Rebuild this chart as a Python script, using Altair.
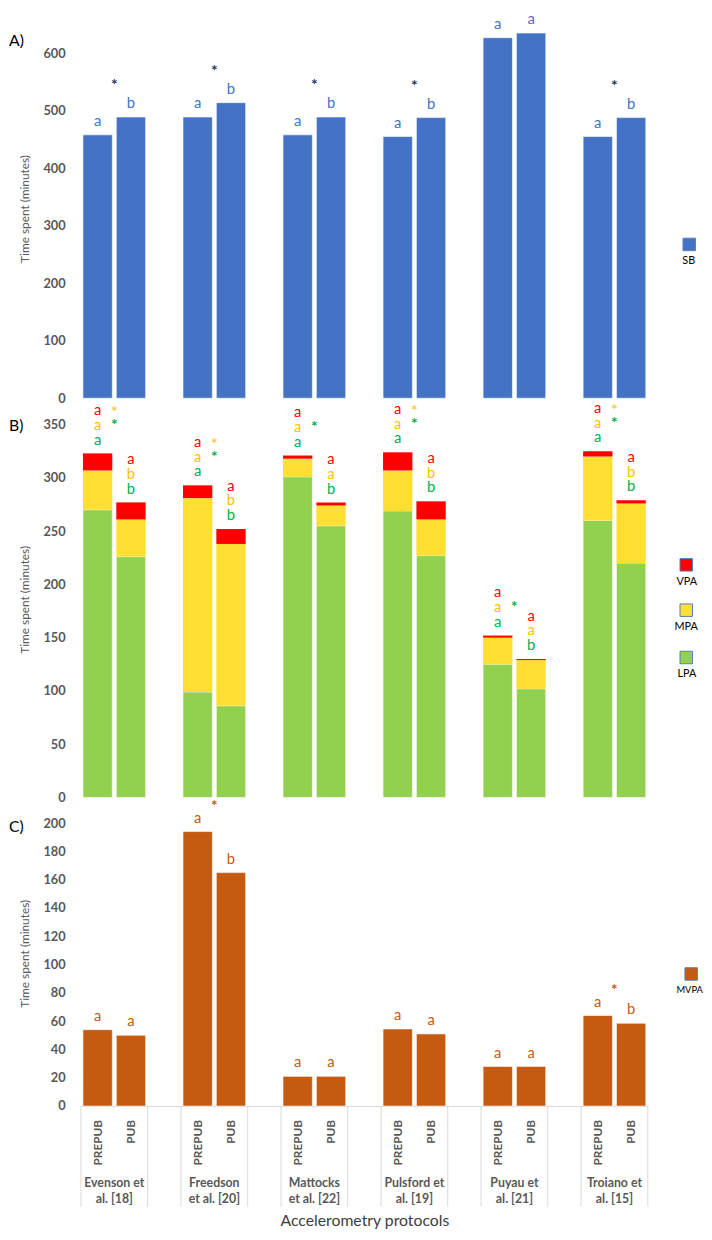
import altair as alt
import pandas as pd

# ---------------- data ----------------
GROUPS = ["Evenson et\nal. [18]", "Freedson\net al. [20]", "Mattocks\net al. [22]",
          "Pulsford et\nal. [19]", "Puyau et\nal. [21]", "Troiano et\nal. [15]"]
PERIODS = ["PREPUB", "PUB"]

SB_PREPUB = [458, 489, 458, 455, 627, 455]
SB_PUB = [489, 514, 489, 488, 635, 488]
SB_LET_PREPUB = ["a", "a", "a", "a", "a", "a"]
SB_LET_PUB = ["b", "b", "b", "b", "a", "b"]
SB_STAR = [1, 1, 1, 1, 0, 1]

LPA_PREPUB = [270, 99, 301, 269, 125, 260]
LPA_PUB = [226, 86, 255, 227, 102, 220]
MPA_PREPUB = [37, 182, 17, 38, 25, 60]
MPA_PUB = [35, 152, 19, 34, 27, 56]
VPA_PREPUB = [16, 12, 3, 17, 2, 5]
VPA_PUB = [16, 14, 3, 17, 1, 3]
LPA_LET_PREPUB = ["a", "a", "a", "a", "a", "a"]
LPA_LET_PUB = ["b", "b", "b", "b", "b", "b"]
MPA_LET_PREPUB = ["a", "a", "a", "a", "a", "a"]
MPA_LET_PUB = ["b", "b", "a", "b", "a", "b"]
VPA_LET_PREPUB = ["a", "a", "a", "a", "a", "a"]
VPA_LET_PUB = ["a", "a", "a", "a", "a", "a"]
LPA_STAR = [1, 1, 1, 1, 1, 1]
MPA_STAR = [1, 1, 0, 1, 0, 1]

MVPA_PREPUB = [54, 194, 21, 54.5, 28, 64]
MVPA_PUB = [50, 165, 21, 51, 28, 58.5]
MVPA_LET_PREPUB = ["a", "a", "a", "a", "a", "a"]
MVPA_LET_PUB = ["a", "b", "a", "a", "a", "b"]
MVPA_STAR = [0, 1, 0, 0, 0, 1]

rows = []
for i, g in enumerate(GROUPS):
    for p in PERIODS:
        pre = p == "PREPUB"
        l = LPA_PREPUB[i] if pre else LPA_PUB[i]
        m = MPA_PREPUB[i] if pre else MPA_PUB[i]
        v = VPA_PREPUB[i] if pre else VPA_PUB[i]
        rows.append(dict(
            group=g, period=p,
            sb=SB_PREPUB[i] if pre else SB_PUB[i],
            sb_let=SB_LET_PREPUB[i] if pre else SB_LET_PUB[i],
            sb_star=SB_STAR[i],
            lpa=l, lm=l + m, tot=l + m + v,
            lpa_let=LPA_LET_PREPUB[i] if pre else LPA_LET_PUB[i],
            mpa_let=MPA_LET_PREPUB[i] if pre else MPA_LET_PUB[i],
            vpa_let=VPA_LET_PREPUB[i] if pre else VPA_LET_PUB[i],
            lpa_star=LPA_STAR[i], mpa_star=MPA_STAR[i],
            mvpa=MVPA_PREPUB[i] if pre else MVPA_PUB[i],
            mvpa_let=MVPA_LET_PREPUB[i] if pre else MVPA_LET_PUB[i],
            mvpa_star=MVPA_STAR[i],
        ))
df = pd.DataFrame(rows)
grp_df = pd.DataFrame({"group": GROUPS})

# ---------------- styling ----------------
FONT = "Lato"
W = 575
GRAY = "#595959"

xsc = alt.Scale(domain=GROUPS, paddingInner=1 / 3, paddingOuter=0)
osc = alt.Scale(domain=PERIODS, paddingInner=0.12, paddingOuter=0.06)
XO = alt.XOffset("period:N", scale=osc)


def yaxis(vals):
    return alt.Axis(values=vals, title="Time spent (minutes)", grid=False, ticks=False,
                    domain=False, labelPadding=16, labelFont=FONT, labelFontWeight="bold",
                    labelColor=GRAY, labelFontSize=13, titleFont=FONT, titleFontSize=12,
                    titleFontWeight="normal", titleColor=GRAY, titlePadding=12)


def leg(title, lx, ly, off, fs=11):
    return alt.Legend(title=title, orient="none", legendX=lx, legendY=ly, titleOrient="bottom",
                      titleAnchor="start", labelExpr="''", labelFontSize=1, labelOffset=0,
                      symbolType="square", symbolSize=160, symbolStrokeColor="#5B7DB8",
                      symbolStrokeWidth=1, symbolOffset=off, titleFont=FONT, titleFontSize=fs,
                      titleFontWeight="normal", titleColor="black", titlePadding=3, padding=0)


class Panel:
    def __init__(self, yscale, yax, xax):
        self.ys = yscale
        self.ya = yax
        self.xa = xax

    def X(self, **kw):
        return alt.X("group:N", scale=xsc, axis=self.xa, **kw)

    def Y(self, col):
        return alt.Y(col, scale=self.ys, axis=self.ya)

    def letters(self, ycol, field, color, dy):
        return alt.Chart(df).mark_text(dy=dy, fontSize=15, color=color, font=FONT,
                                       baseline="middle").encode(
            x=self.X(), xOffset=XO, y=self.Y(ycol), text=field)

    def stars(self, flag, ycol, color, dy):
        return alt.Chart(df).transform_filter(f"datum.{flag} == 1").transform_aggregate(
            top=f"max({ycol})", groupby=["group"]).mark_text(
            dy=dy, fontSize=16, color=color, font=FONT, fontWeight="bold",
            baseline="middle").encode(x=self.X(), y=self.Y("top:Q"), text=alt.value("*"))


def panel_label(t, yv):
    return alt.Chart(pd.DataFrame({"t": [t]})).mark_text(
        align="left", baseline="middle", fontSize=16, font=FONT, color="black").encode(
        x=alt.value(-73), y=alt.value(yv), text="t:N")


# ---------------- panel A ----------------
PA = Panel(alt.Scale(domain=[0, 660], nice=False), yaxis([0, 100, 200, 300, 400, 500, 600]), None)
barsA = alt.Chart(df).transform_calculate(key="'SB'").mark_bar(stroke="white", strokeWidth=0.6).encode(
    x=PA.X(), xOffset=XO, y=PA.Y("sb:Q"),
    color=alt.Color("key:N", scale=alt.Scale(domain=["SB"], range=["#4472C4"]),
                    legend=leg("SB", 610, 222, 0)))
panelA = alt.layer(
    barsA,
    PA.letters("sb:Q", "sb_let:N", "#4472C4", -14),
    PA.stars("sb_star", "sb", "#1F3864", -32),
    panel_label("A)", 23),
).properties(width=W, height=385)

# ---------------- panel B ----------------
PB = Panel(alt.Scale(domain=[0, 372], nice=False),
           yaxis([0, 50, 100, 150, 200, 250, 300, 350]), None)
lpaBar = alt.Chart(df).transform_calculate(key="'LPA'").mark_bar(stroke="white", strokeWidth=0.6).encode(
    x=PB.X(), xOffset=XO, y=PB.Y("lpa:Q"),
    color=alt.Color("key:N", scale=alt.Scale(domain=["LPA"], range=["#92D050"]),
                    legend=leg("LPA", 605, 253, 2)))
mpaBar = alt.Chart(df).transform_calculate(key="'MPA'").mark_bar().encode(
    x=PB.X(), xOffset=XO, y=PB.Y("lpa:Q"), y2="lm:Q",
    color=alt.Color("key:N", scale=alt.Scale(domain=["MPA"], range=["#FFE032"]),
                    legend=leg("MPA", 602, 205, 5)))
vpaBar = alt.Chart(df).transform_calculate(key="'VPA'").mark_bar().encode(
    x=PB.X(), xOffset=XO, y=PB.Y("lm:Q"), y2="tot:Q",
    color=alt.Color("key:N", scale=alt.Scale(domain=["VPA"], range=["#FF0000"]),
                    legend=leg("VPA", 604, 159, 3)))
panelB = alt.layer(
    lpaBar, mpaBar, vpaBar,
    PB.letters("tot:Q", "lpa_let:N", "#00B050", -14),
    PB.letters("tot:Q", "mpa_let:N", "#FFC000", -29),
    PB.letters("tot:Q", "vpa_let:N", "#FF0000", -44),
    PB.stars("mpa_star", "tot", "#FFC84A", -42),
    PB.stars("lpa_star", "tot", "#00B050", -29),
    panel_label("B)", 25),
).resolve_scale(color="independent").properties(width=W, height=402)

# ---------------- panel C ----------------
xaxisC = alt.Axis(title="Accelerometry protocols", labelExpr="split(datum.label, '\\n')",
                  labelAngle=0, labelPadding=72, labelBaseline="top", labelFont=FONT,
                  labelFontWeight="bold", labelFontSize=12.5, labelColor=GRAY, labelLineHeight=16,
                  ticks=False, domainColor="#D9D9D9", domainWidth=1, titleFont=FONT,
                  titleFontSize=16, titleFontWeight="normal", titleColor="#404040", titlePadding=8)
PC = Panel(alt.Scale(domain=[0, 216], nice=False), yaxis(list(range(0, 220, 20))), xaxisC)
barsC = alt.Chart(df).transform_calculate(key="'MVPA'").mark_bar(stroke="white", strokeWidth=0.6).encode(
    x=PC.X(), xOffset=XO, y=PC.Y("mvpa:Q"),
    color=alt.Color("key:N", scale=alt.Scale(domain=["MVPA"], range=["#C55A11"]),
                    legend=leg("MVPA", 604, 169, 8, fs=9.5)))
ruleStart = alt.Chart(grp_df).mark_rule(color="#D9D9D9", strokeWidth=1).encode(
    x=PC.X(bandPosition=0), y=alt.value(310), y2=alt.value(412))
ruleEnd = alt.Chart(grp_df).mark_rule(color="#D9D9D9", strokeWidth=1).encode(
    x=PC.X(bandPosition=1), y=alt.value(310), y2=alt.value(412))
periodLabels = alt.Chart(df).mark_text(angle=270, align="right", baseline="middle", font=FONT,
                                       fontWeight="bold", fontSize=12, color=GRAY).encode(
    x=PC.X(), xOffset=XO, y=alt.value(324), text="period:N")
panelC = alt.layer(
    barsC, ruleStart, ruleEnd, periodLabels,
    PC.letters("mvpa:Q", "mvpa_let:N", "#C55A11", -14),
    PC.stars("mvpa_star", "mvpa", "#C55A11", -26),
    panel_label("C)", 27),
).properties(width=W, height=310)

chart = alt.vconcat(panelA, panelB, panelC, spacing=3, bounds="flush").resolve_scale(
    color="independent").properties(
    padding={"top": -5, "left": 0, "right": 0, "bottom": 0}).configure_view(stroke="transparent")

chart.save("out.html", embed_options={"renderer": "svg", "actions": False})
